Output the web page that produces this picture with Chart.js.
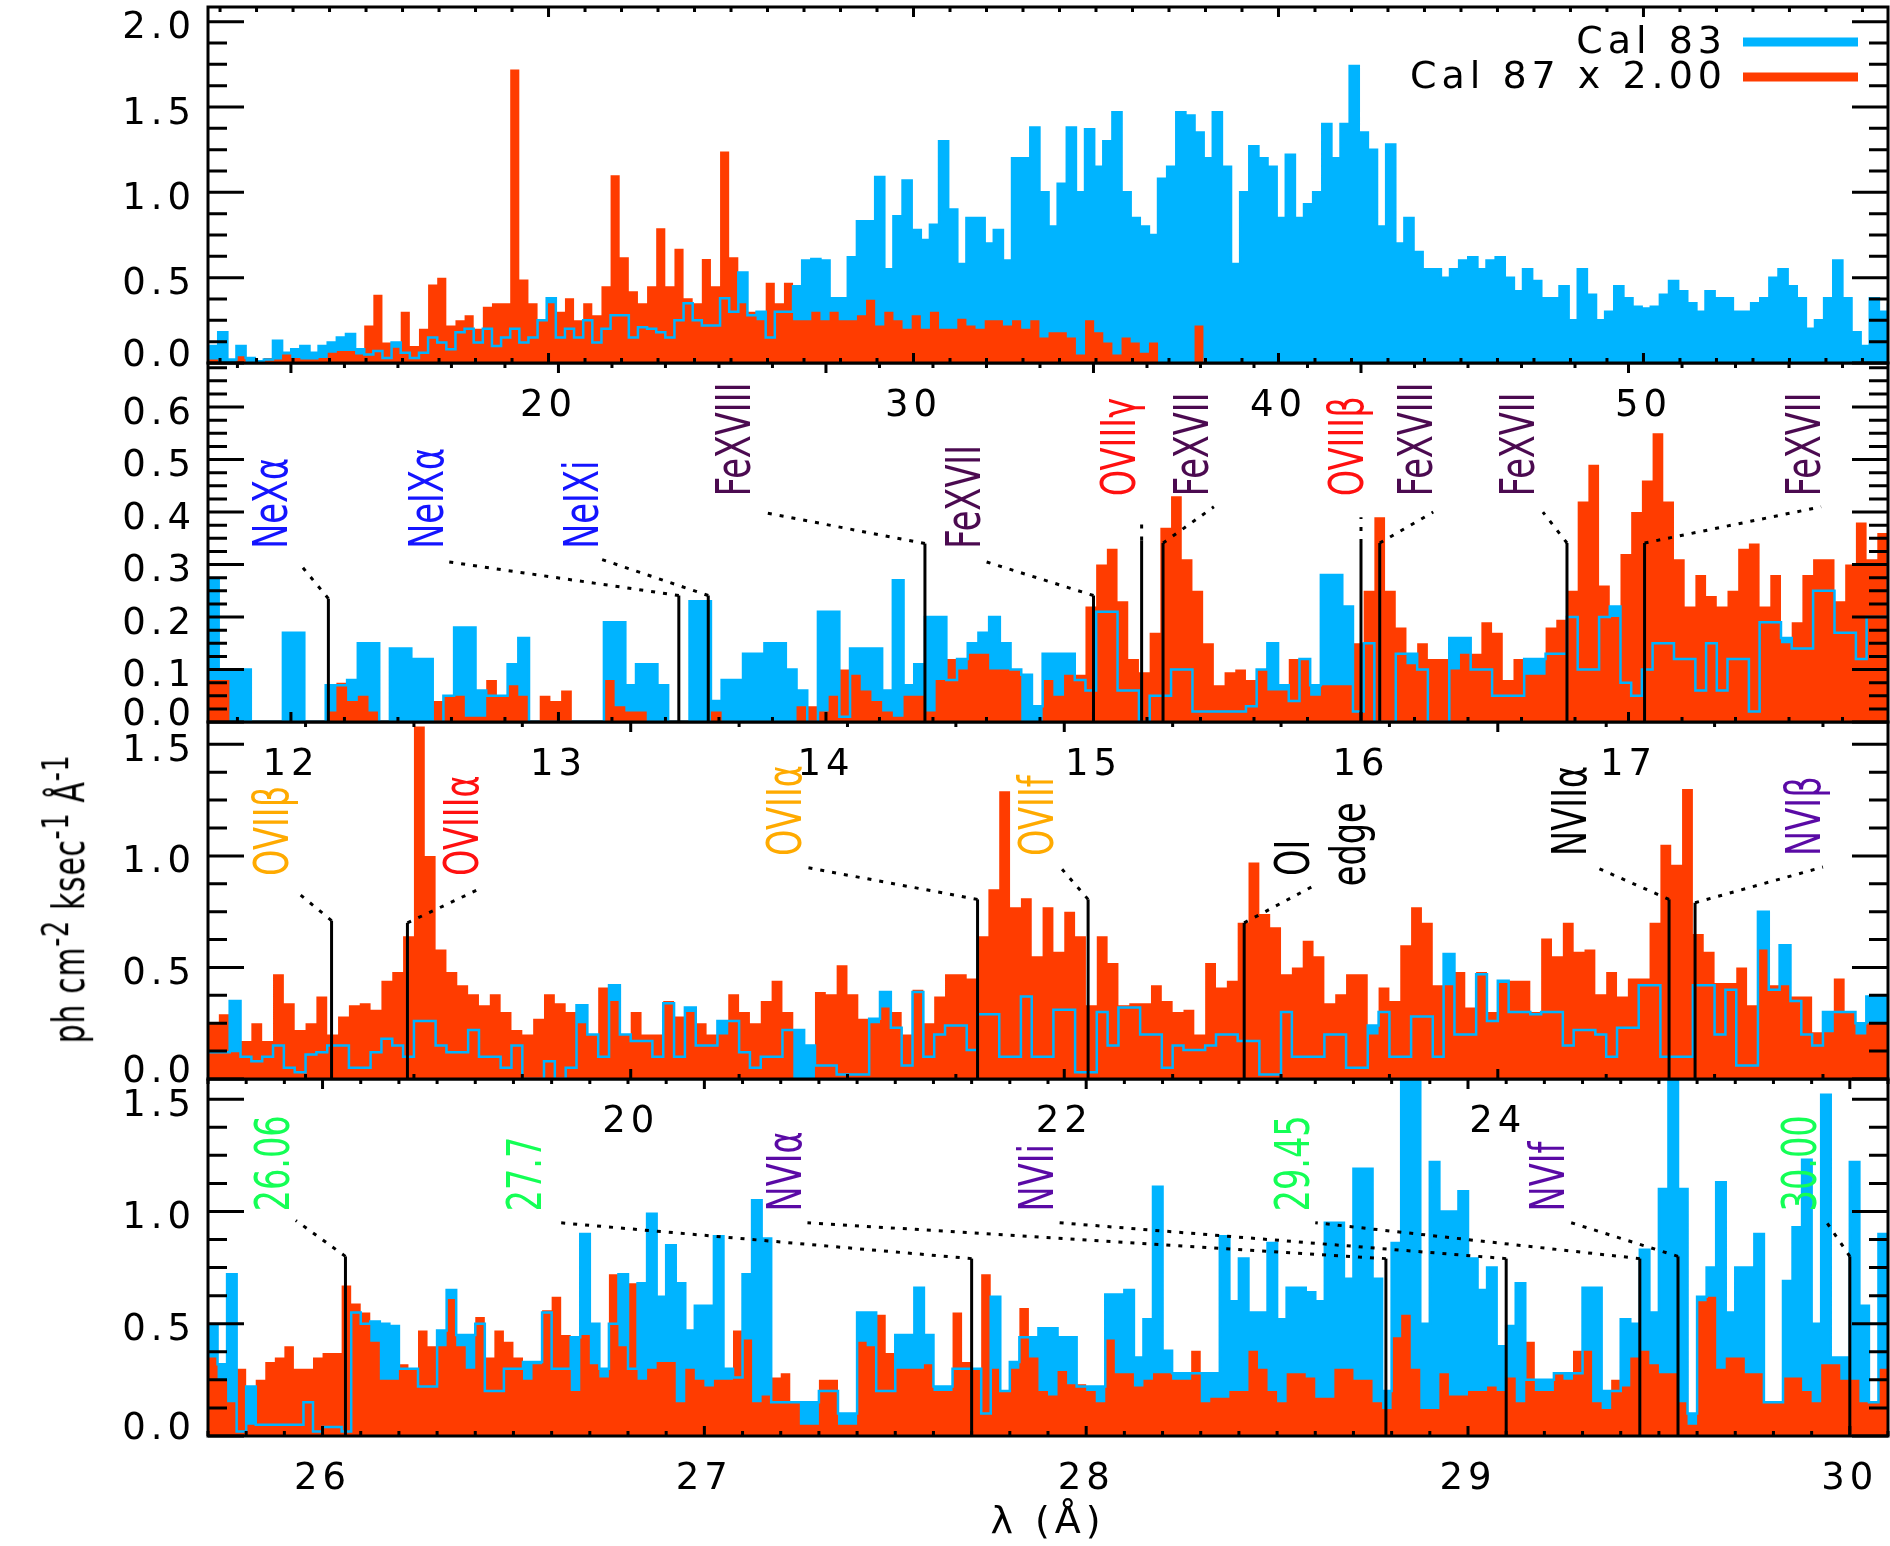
<!DOCTYPE html>
<html>
<head>
<meta charset="utf-8">
<script src="https://cdn.jsdelivr.net/npm/chart.js@4.4.1/dist/chart.umd.min.js"></script>
<style>
html, body { margin: 0; padding: 0; background: #fff; }
#wrap { position: relative; width: 1890px; height: 1546px; overflow: hidden; background: #fff; }
#wrap canvas { position: absolute; left: 0; }
#ylab {
  position: absolute; left: 64px; top: 899px;
  transform: translate(-50%, -50%) rotate(-90deg) scaleX(0.68);
  white-space: nowrap; font: 44px 'DejaVu Sans'; letter-spacing: 1px; line-height: 1; color: #000;
}
#ylab sup { font-size: 0.85em; }
</style>
</head>
<body>
<div id="wrap">
  <canvas id="p4"></canvas>
  <canvas id="p3"></canvas>
  <canvas id="p2"></canvas>
  <canvas id="p1"></canvas>
  <div id="ylab">ph cm<sup>-2</sup> ksec<sup>-1</sup> Å<sup>-1</sup></div>
</div>
<script>
// ---- spectra (ph cm^-2 ksec^-1 A^-1), histogram bins start at *Start, width *Bin (A)

// panel 1: whole band
const p1Start = 10.7, p1Bin = 0.25;
const p1Cal83 = [
  0.1, 0.18, 0.02, 0.1, 0.03, 0.01, 0.02, 0.13, 0.06, 0.08,
  0.1, 0.06, 0.1, 0.12, 0.15, 0.17, 0.08, 0.05, 0.07, 0.03,
  0.12, 0.06, 0.03, 0.06, 0.15, 0.12, 0.08, 0.18, 0.2, 0.12,
  0.2, 0.1, 0.15, 0.2, 0.12, 0.15, 0.25, 0.38, 0.15, 0.2,
  0.15, 0.25, 0.12, 0.2, 0.28, 0.28, 0.15, 0.21, 0.2, 0.18,
  0.15, 0.25, 0.35, 0.25, 0.22, 0.22, 0.38, 0.3, 0.53, 0.28,
  0.3, 0.15, 0.3, 0.3, 0.45, 0.6, 0.61, 0.6, 0.38, 0.38,
  0.62, 0.83, 0.83, 1.09, 0.55, 0.86, 1.07, 0.78, 0.72, 0.81,
  1.3, 0.9, 0.58, 0.85, 0.85, 0.7, 0.78, 0.6, 1.2, 1.2,
  1.38, 1.0, 0.8, 1.05, 1.38, 1.0, 1.37, 1.15, 1.3, 1.47,
  1.0, 0.85, 0.8, 0.75, 1.08, 1.15, 1.47, 1.45, 1.35, 1.2,
  1.47, 1.15, 0.58, 1.0, 1.27, 1.2, 1.15, 0.85, 1.22, 0.85,
  0.93, 1.0, 1.4, 1.2, 1.4, 1.74, 1.35, 1.25, 0.8, 1.28,
  0.7, 0.85, 0.65, 0.55, 0.55, 0.5, 0.55, 0.6, 0.62, 0.55,
  0.6, 0.62, 0.5, 0.42, 0.55, 0.48, 0.38, 0.38, 0.45, 0.25,
  0.55, 0.4, 0.25, 0.3, 0.45, 0.38, 0.33, 0.32, 0.33, 0.4,
  0.48, 0.42, 0.35, 0.3, 0.42, 0.38, 0.38, 0.3, 0.3, 0.35,
  0.38, 0.5, 0.55, 0.45, 0.38, 0.2, 0.25, 0.38, 0.6, 0.38,
  0.18, 0.1, 0.38, 0.3, 0.35
];
const p1Cal87 = [
  0.02, 0, 0, 0.04, 0, 0.01, 0.03, 0.02, 0.05, 0.03,
  0.02, 0.02, 0.03, 0.06, 0.07, 0.07, 0.05, 0.22, 0.4, 0.12,
  0.09, 0.3, 0.1, 0.2, 0.46, 0.5, 0.22, 0.25, 0.28, 0.2,
  0.33, 0.35, 0.35, 1.72, 0.49, 0.35, 0.25, 0.35, 0.3, 0.38,
  0.25, 0.35, 0.28, 0.45, 1.1, 0.62, 0.42, 0.35, 0.45, 0.79,
  0.45, 0.67, 0.38, 0.35, 0.61, 0.45, 1.24, 0.62, 0.35, 0.3,
  0.25, 0.47, 0.35, 0.47, 0.25, 0.25, 0.3, 0.25, 0.3, 0.25,
  0.25, 0.28, 0.37, 0.22, 0.3, 0.25, 0.2, 0.28, 0.2, 0.3,
  0.2, 0.2, 0.26, 0.22, 0.2, 0.25, 0.25, 0.22, 0.25, 0.2,
  0.25, 0.15, 0.18, 0.18, 0.15, 0.05, 0.25, 0.18, 0.12, 0.05,
  0.15, 0.12, 0.06, 0.12, 0, 0, 0, 0, 0.22
];
const p1XTicks = [20, 30, 40, 50];
const p1YTicks = [0, 0.5, 1.0, 1.5, 2.0];

// panel 2: 11.7 - 18 A
const p2Start = 11.69, p2Bin = 0.04;
const p2Cal83 = [
  0.27, 0.1, 0.1, 0.1, 0, 0, 0, 0.17, 0.17, 0,
  0, 0.07, 0.07, 0.08, 0.15, 0.15, 0, 0.14, 0.14, 0.12,
  0.12, 0, 0.05, 0.18, 0.18, 0.06, 0.05, 0.05, 0.11, 0.16,
  0, 0, 0, 0, 0, 0, 0, 0.19, 0.19, 0.07,
  0.11, 0.11, 0.07, 0, 0, 0.23, 0.23, 0.04, 0.08, 0.08,
  0.13, 0.13, 0.15, 0.15, 0.1, 0.06, 0, 0.21, 0.21, 0.01,
  0.14, 0.14, 0.14, 0.06, 0.27, 0.07, 0.11, 0.2, 0.2, 0.08,
  0.12, 0.15, 0.17, 0.2, 0.15, 0.1, 0.09, 0.03, 0.13, 0.13,
  0.13, 0.08, 0.06, 0.21, 0.21, 0.06, 0.06, 0, 0.05, 0.05,
  0.1, 0.1, 0.02, 0.02, 0.02, 0.02, 0.02, 0.03, 0.1, 0.15,
  0.07, 0.04, 0.12, 0.07, 0.28, 0.28, 0.22, 0.02, 0.15, 0,
  0, 0.13, 0.13, 0.1, 0, 0, 0.16, 0.16, 0.1, 0.1,
  0.05, 0.05, 0.05, 0.12, 0.12, 0.13, 0.13, 0.2, 0.1, 0.1,
  0.2, 0.22, 0.075, 0.05, 0.1, 0.15, 0.15, 0.12, 0.12, 0.06,
  0.15, 0.06, 0.12, 0.12, 0.02, 0.19, 0.19, 0.16, 0.14, 0.14,
  0.25, 0.25, 0.17, 0.17, 0.12, 0.2, 0.2, 0.33
];
const p2Cal87 = [
  0.08, 0.08, 0, 0, 0, 0, 0, 0, 0, 0,
  0, 0.02, 0.075, 0.04, 0.05, 0.02, 0, 0, 0, 0,
  0, 0.04, 0.05, 0.05, 0.01, 0.01, 0.08, 0.05, 0.07, 0.05,
  0, 0.05, 0.04, 0.06, 0, 0, 0, 0.08, 0.03, 0.02,
  0.02, 0, 0, 0, 0, 0, 0, 0.02, 0, 0,
  0, 0, 0, 0, 0, 0.03, 0.03, 0.02, 0.05, 0.1,
  0.09, 0.06, 0.04, 0.02, 0.01, 0.05, 0.05, 0.02, 0.08, 0.12,
  0.1, 0.13, 0.13, 0.1, 0.1, 0.1, 0, 0, 0.08, 0.05,
  0.09, 0.09, 0.22, 0.3, 0.33, 0.23, 0.12, 0.095, 0.17, 0.37,
  0.43, 0.31, 0.25, 0.15, 0.07, 0.095, 0.1, 0.08, 0.1, 0.06,
  0.06, 0.12, 0.12, 0.05, 0.07, 0.07, 0.07, 0.15, 0.25, 0.39,
  0.25, 0.18, 0.11, 0.15, 0.12, 0.12, 0.1, 0.13, 0.13, 0.19,
  0.17, 0.08, 0.12, 0.09, 0.09, 0.18, 0.195, 0.25, 0.42, 0.49,
  0.26, 0.2, 0.32, 0.4, 0.46, 0.55, 0.42, 0.31, 0.22, 0.28,
  0.24, 0.22, 0.25, 0.33, 0.34, 0.22, 0.28, 0.15, 0.19, 0.28,
  0.31, 0.31, 0.23, 0.3, 0.38, 0.31, 0.36, 0.36
];
const p2XTicks = [12, 13, 14, 15, 16, 17];
const p2YTicks = [0, 0.1, 0.2, 0.3, 0.4, 0.5, 0.6];
const p2LineLam = [12.14, 13.45, 13.56, 14.37, 15.0, 15.18, 15.26, 16.0, 16.07, 16.77, 17.06];
const p2LineName = ['NeXα', 'NeIXα', 'NeIXi', 'FeXVIII', 'FeXVII', 'OVIIIγ', 'FeXVII', 'OVIIIβ', 'FeXVIII', 'FeXVII', 'FeXVII'];

// panel 3: 18 - 25.8 A
const p3Start = 18.05, p3Bin = 0.05;
const p3Cal83 = [
  0.12, 0.12, 0.35, 0.1, 0.08, 0.1, 0.15, 0.05, 0.03, 0.11,
  0.12, 0.15, 0.15, 0.05, 0.05, 0.12, 0.18, 0.15, 0.1, 0.26,
  0.26, 0.15, 0.12, 0.12, 0.22, 0.1, 0.1, 0.05, 0.15, 0,
  0, 0.08, 0, 0.05, 0.33, 0.2, 0.1, 0.42, 0.2, 0.17,
  0.17, 0.1, 0.34, 0.1, 0.32, 0.15, 0.15, 0.26, 0.26, 0.12,
  0.05, 0.1, 0.1, 0.22, 0.22, 0.15, 0.06, 0.06, 0.02, 0.02,
  0.02, 0.27, 0.39, 0.23, 0.06, 0.39, 0.1, 0.2, 0.24, 0.24,
  0.13, 0.29, 0.29, 0.1, 0.1, 0.37, 0.1, 0.1, 0.31, 0.31,
  0.03, 0.03, 0.3, 0.15, 0.32, 0.32, 0.2, 0.2, 0.05, 0.15,
  0.13, 0.13, 0.15, 0.2, 0.2, 0.17, 0.17, 0.02, 0.02, 0.3,
  0.1, 0.1, 0.1, 0.2, 0.2, 0.05, 0.05, 0.24, 0.3, 0.1,
  0.1, 0.28, 0.28, 0.1, 0.56, 0.2, 0.2, 0.47, 0.26, 0.44,
  0.3, 0.3, 0.29, 0.3, 0.3, 0.15, 0.22, 0.22, 0.2, 0.1,
  0.23, 0.23, 0.42, 0.42, 0.1, 0.1, 0.1, 0.42, 0.42, 0.2,
  0.4, 0.06, 0.06, 0.75, 0.4, 0.6, 0.35, 0.2, 0.15, 0.3,
  0.3, 0.3, 0.25, 0.37, 0.37
];
const p3Cal87 = [
  0.25, 0.29, 0.12, 0.17, 0.25, 0.17, 0.47, 0.34, 0.22, 0.25,
  0.37, 0.2, 0.28, 0.33, 0.34, 0.31, 0.44, 0.48, 0.64, 1.58,
  1.0, 0.58, 0.48, 0.42, 0.38, 0.33, 0.38, 0.3, 0.22, 0.2,
  0.27, 0.38, 0.34, 0.3, 0.25, 0.2, 0.41, 0.35, 0.2, 0.3,
  0.2, 0.2, 0.35, 0.28, 0.3, 0.25, 0.2, 0.2, 0.38, 0.3,
  0.25, 0.35, 0.44, 0.3, 0, 0, 0.39, 0.38, 0.51, 0.38,
  0.27, 0.25, 0.32, 0.3, 0.2, 0.4, 0.25, 0.37, 0.47, 0.47,
  0.45, 0.64, 0.85, 1.29, 0.77, 0.81, 0.55, 0.77, 0.57, 0.75,
  0.64, 0.33, 0.64, 0.52, 0.33, 0.34, 0.34, 0.42, 0.35, 0.3,
  0.31, 0.2, 0.52, 0.41, 0.44, 0.7, 0.97, 0.74, 0.68, 0.47,
  0.5, 0.62, 0.55, 0.34, 0.38, 0.47, 0.47, 0.2, 0.41, 0.35,
  0.6, 0.77, 0.7, 0.42, 0.42, 0.48, 0.32, 0.48, 0.3, 0.43,
  0.44, 0.44, 0.3, 0.63, 0.55, 0.7, 0.57, 0.58, 0.38, 0.48,
  0.37, 0.45, 0.45, 0.7, 1.05, 0.96, 1.3, 0.65, 0.57, 0.43,
  0.43, 0.5, 0.33, 0.58, 0.42, 0.42, 0.37, 0.37, 0.21, 0.21,
  0.45, 0.3, 0.2, 0.25, 0.25
];
const p3XTicks = [20, 22, 24];
const p3YTicks = [0, 0.5, 1.0, 1.5];
const p3LineLam = [18.62, 18.97, 21.6, 22.11, 22.83, 24.79, 24.91];
const p3LineName = ['OVIIβ', 'OVIIIα', 'OVIIα', 'OVIIf', 'OI|edge', 'NVIIα', 'NVIβ'];

// panel 4: 25.7 - 30.1 A
const p4Start = 25.7, p4Bin = 0.025;
const p4Cal83 = [
  0.49, 0.32, 0.72, 0.02, 0.22, 0.05, 0.05, 0.05, 0.05, 0.05,
  0.15, 0.02, 0.04, 0.04, 0.02, 0.55, 0.5, 0.51, 0.5, 0.49,
  0.3, 0.3, 0.22, 0.22, 0.47, 0.65, 0.45, 0.45, 0.5, 0.2,
  0.2, 0.3, 0.3, 0.33, 0.33, 0.55, 0.3, 0.3, 0.44, 0.9,
  0.5, 0.3, 0.5, 0.72, 0.3, 0.68, 0.99, 0.62, 0.85, 0.68,
  0.47, 0.58, 0.58, 0.89, 0.3, 0.26, 0.72, 1.05, 0.88, 0.15,
  0.15, 0.15, 0.15, 0.15, 0.2, 0.2, 0.1, 0.1, 0.55, 0.55,
  0.2, 0.2, 0.45, 0.45, 0.66, 0.45, 0.22, 0.22, 0.3, 0.3,
  0.3, 0.1, 0.62, 0.2, 0.33, 0.44, 0.44, 0.48, 0.48, 0.44,
  0.44, 0.22, 0.22, 0.22, 0.63, 0.63, 0.65, 0.35, 0.52, 1.11,
  0.38, 0.28, 0.28, 0.28, 0.28, 0.28, 0.89, 0.6, 0.79, 0.55,
  0.55, 0.86, 0.52, 0.66, 0.66, 0.64, 0.6, 0.95, 0.95, 0.7,
  1.19, 1.19, 0.7, 0.2, 0.86, 1.59, 1.59, 0.5, 1.22, 1.0,
  1.0, 1.09, 0.79, 0.65, 0.75, 0.4, 0.49, 0.68, 0.25, 0.25,
  0.25, 0.28, 0.28, 0.28, 0.66, 0.66, 0.2, 0.2, 0.52, 0.5,
  0.83, 0.55, 1.1, 1.59, 1.1, 0.1, 0.62, 0.75, 1.13, 0.55,
  0.75, 0.75, 0.9, 0.15, 0.15, 0.69, 0.93, 1.23, 0.5, 1.52,
  0.35, 0.35, 1.22, 0.58, 0.15, 0.9, 0.6
];
const p4Cal87 = [
  0.35, 0.25, 0.15, 0.3, 0.05, 0.25, 0.33, 0.35, 0.4, 0.3,
  0.3, 0.35, 0.37, 0.37, 0.67, 0.59, 0.55, 0.42, 0.25, 0.25,
  0.32, 0.3, 0.47, 0.4, 0.4, 0.61, 0.4, 0.3, 0.53, 0.35,
  0.47, 0.42, 0.35, 0.25, 0.32, 0.56, 0.62, 0.45, 0.2, 0.45,
  0.32, 0.26, 0.72, 0.4, 0.68, 0.25, 0.3, 0.33, 0.33, 0.15,
  0.3, 0.25, 0.22, 0.25, 0.25, 0.47, 0.43, 0.15, 0.18, 0.26,
  0.28, 0.15, 0.05, 0.05, 0.25, 0.25, 0.05, 0.05, 0.42, 0.4,
  0.54, 0.37, 0.3, 0.3, 0.3, 0.32, 0.2, 0.2, 0.55, 0.33,
  0.3, 0.72, 0.3, 0.2, 0.3, 0.57, 0.35, 0.2, 0.18, 0.29,
  0.23, 0.23, 0.2, 0.15, 0.43, 0.28, 0.28, 0.22, 0.25, 0.28,
  0.28, 0.25, 0.25, 0.38, 0.15, 0.17, 0.17, 0.2, 0.2, 0.38,
  0.3, 0.2, 0.15, 0.28, 0.28, 0.26, 0.17, 0.17, 0.3, 0.3,
  0.25, 0.25, 0.15, 0.12, 0.44, 0.54, 0.3, 0.12, 0.12, 0.28,
  0.18, 0.18, 0.2, 0.2, 0.22, 0.2, 0.26, 0.15, 0.42, 0.2,
  0.2, 0.28, 0.25, 0.38, 0.38, 0.15, 0.12, 0.25, 0.22, 0.35,
  0.38, 0.32, 0.28, 0.28, 0.15, 0.05, 0.6, 0.62, 0.3, 0.35,
  0.35, 0.28, 0.28, 0.15, 0.15, 0.26, 0.26, 0.2, 0.15, 0.32,
  0.32, 0.25, 0.25, 0.15, 0.15, 0.3, 0.45
];
const p4XTicks = [26, 27, 28, 29, 30];
const p4YTicks = [0, 0.5, 1.0, 1.5];
const p4LineLam = [26.06, 27.7, 28.785, 29.1, 29.45, 29.55, 30.0];
const p4LineName = ['26.06', '27.7', 'NVIα', 'NVIi', '29.45', 'NVIf', '30.00'];

const seriesNames = ['Cal 83', 'Cal 87 x 2.00'];

// ---- styling / layout
const BLUE = '#00b4ff', RED = '#ff3c00';
const TAG_COLOR = { ne: '#1414ff', fe: '#4b0a50', o8: '#ff1010', o7: '#ffaa00', n6: '#5a0aa5', gr: '#14ff55', k: '#000' };
const FONT = 'DejaVu Sans';

// leader geometry: [line top, bend lambda, bend y, colour, [[text lambda, text start y], ...]]
const p2Leader = [
  [0.235, 12.035, 0.30, 'ne', [[11.94, 0.33]]],
  [0.241, 12.59, 0.305, 'ne', [[12.52, 0.33]]],
  [0.241, 13.16, 0.31, 'ne', [[13.10, 0.33]]],
  [0.34, 13.76, 0.40, 'fe', [[13.67, 0.43]]],
  [0.241, 14.60, 0.305, 'fe', [[14.53, 0.33]]],
  [0.346, 15.18, 0.39, 'o8', [[15.11, 0.43]]],
  [0.341, 15.45, 0.41, 'fe', [[15.38, 0.43]]],
  [0.341, 16.0, 0.39, 'o8', [[15.96, 0.43]]],
  [0.341, 16.27, 0.40, 'fe', [[16.22, 0.43]]],
  [0.341, 16.68, 0.40, 'fe', [[16.60, 0.43]]],
  [0.341, 17.72, 0.41, 'fe', [[17.67, 0.43]]]
];
const p3Leader = [
  [0.71, 18.47, 0.83, 'o7', [[18.36, 0.91]]],
  [0.70, 19.32, 0.86, 'o8', [[19.24, 0.91]]],
  [0.805, 20.80, 0.95, 'o7', [[20.73, 1.0]]],
  [0.805, 21.99, 0.94, 'o7', [[21.89, 1.0]]],
  [0.70, 23.14, 0.86, 'k', [[23.07, 0.91], [23.33, 0.864]]],
  [0.805, 24.45, 0.95, 'k', [[24.35, 1.0]]],
  [0.79, 25.50, 0.95, 'n6', [[25.43, 1.0]]]
];
const p4Leader = [
  [0.80, 25.93, 0.96, 'gr', [[25.88, 1.0]]],
  [0.79, 26.62, 0.95, 'gr', [[26.54, 1.0]]],
  [0.79, 27.27, 0.95, 'n6', [[27.22, 1.0]]],
  [0.79, 27.93, 0.95, 'n6', [[27.88, 1.0]]],
  [0.79, 28.60, 0.95, 'gr', [[28.55, 1.0]]],
  [0.80, 29.27, 0.95, 'n6', [[29.22, 1.0]]],
  [0.80, 29.94, 0.95, 'gr', [[29.88, 1.0]]]
];

function steps(start, bin, vals) {
  const pts = vals.map((v, i) => ({ x: start + i * bin, y: v }));
  pts.push({ x: start + vals.length * bin, y: vals[vals.length - 1] });
  return pts;
}

function tagsFrom(lams, names, leader) {
  return lams.map((l, i) => ({ line: l, name: names[i], top: leader[i][0], bend: [leader[i][1], leader[i][2]], color: TAG_COLOR[leader[i][3]], texts: leader[i][4] }));
}

function near(list, v) { return list.some(m => Math.abs(m - v) < 1e-6); }

// IDL-style frame: inward ticks on all four sides, y labels, line identifications, legend
const decor = {
  id: 'decor',
  beforeDraw(chart) { chart.ctx.letterSpacing = '5px'; },
  afterDatasetsDraw(chart, args, o) {
    const { ctx, chartArea: a } = chart;
    const xs = chart.scales.x, ys = chart.scales.y;
    ctx.save();
    ctx.letterSpacing = '0px';
    const y0 = ys.getPixelForValue(0);

    for (const t of o.tags) {
      const lx = xs.getPixelForValue(t.line), ly = ys.getPixelForValue(t.top);
      ctx.strokeStyle = '#000';
      ctx.lineWidth = 3;
      ctx.setLineDash([]);
      ctx.beginPath(); ctx.moveTo(lx, y0); ctx.lineTo(lx, ly); ctx.stroke();
      ctx.setLineDash([4, 8]);
      ctx.beginPath(); ctx.moveTo(lx, ly); ctx.lineTo(xs.getPixelForValue(t.bend[0]), ys.getPixelForValue(t.bend[1])); ctx.stroke();
      ctx.setLineDash([]);
      const parts = t.name.split('|');
      parts.forEach((s, k) => {
        const p = t.texts[k];
        ctx.save();
        ctx.translate(xs.getPixelForValue(p[0]), ys.getPixelForValue(p[1]));
        ctx.rotate(-Math.PI / 2);
        ctx.scale(0.7, 1);
        ctx.font = '48px ' + FONT;
        ctx.fillStyle = t.color;
        ctx.textAlign = 'left';
        ctx.textBaseline = 'middle';
        ctx.fillText(s, 0, 0);
        ctx.restore();
      });
    }

    ctx.strokeStyle = '#000';
    ctx.lineWidth = 3;
    ctx.beginPath();
    for (let k = Math.ceil(ys.min / o.yMinor - 1e-6); k * o.yMinor <= ys.max + 1e-6; k++) {
      const v = k * o.yMinor, py = ys.getPixelForValue(v);
      const len = near(o.yMajor, v) ? 36 : 19;
      ctx.moveTo(a.left, py); ctx.lineTo(a.left + len, py);
      ctx.moveTo(a.right, py); ctx.lineTo(a.right - len, py);
    }
    for (let k = Math.ceil(xs.min / o.xMinor - 1e-6); k * o.xMinor <= xs.max + 1e-6; k++) {
      const v = k * o.xMinor, px = xs.getPixelForValue(v);
      const len = near(o.xMajor, v) ? 10 : 5;
      ctx.moveTo(px, a.bottom); ctx.lineTo(px, a.bottom - len);
      ctx.moveTo(px, a.top); ctx.lineTo(px, a.top + len);
    }
    ctx.stroke();
    ctx.strokeRect(a.left, a.top, a.right - a.left, a.bottom - a.top);

    // y tick labels; the lowest one is lifted clear of the panel below
    ctx.font = '37px ' + FONT;
    ctx.letterSpacing = '5px';
    ctx.fillStyle = '#000';
    ctx.textAlign = 'right';
    ctx.textBaseline = 'alphabetic';
    for (const t of ys.ticks) {
      const py = ys.getPixelForValue(t.value);
      const c = Math.abs(t.value - ys.min) < 1e-6 ? py - 11 : py + 3;
      ctx.fillText(t.value.toFixed(1), a.left - 12, c + 13.5);
    }

    if (o.legend) {
      ctx.font = '38px ' + FONT;
      ctx.textBaseline = 'middle';
      o.legend.forEach((it, i) => {
        const ry = a.top + 35 + i * 35;
        ctx.fillStyle = '#000';
        ctx.fillText(it.text, 1727, ry + 1);
        ctx.strokeStyle = it.color;
        ctx.lineWidth = 9;
        ctx.beginPath(); ctx.moveTo(1743, ry); ctx.lineTo(1858, ry); ctx.stroke();
      });
    }
    ctx.restore();
  },
  afterDraw(chart) { chart.ctx.letterSpacing = '0px'; }
};

const PAD_TOP = 30;

function panel(id, g) {
  const cv = document.getElementById(id);
  cv.width = 1890;
  cv.height = g.bottom - g.top + PAD_TOP + g.padBot;
  cv.style.top = (g.top - PAD_TOP) + 'px';
  const tickFont = { family: FONT, size: 37 };
  const xScale = {
    type: 'linear', min: g.xmin, max: g.xmax,
    grid: { display: false, drawTicks: false }, border: { display: false },
    afterBuildTicks: s => { s.ticks = g.xTicks.map(v => ({ value: v })); },
    afterFit: s => { s.height = g.padBot; s.paddingLeft = 0; s.paddingRight = 0; },
    ticks: { color: '#000', font: tickFont, padding: 21, maxRotation: 0, autoSkip: false, callback: v => String(v) }
  };
  if (g.xTitle) {
    xScale.title = { display: true, text: g.xTitle, color: '#000', font: { family: FONT, size: 38 }, padding: { top: 0, bottom: 0 } };
  }
  return new Chart(cv, {
    type: 'line',
    data: {
      datasets: [
        { data: steps(g.start, g.bin, g.blue), backgroundColor: BLUE, borderWidth: 0, fill: 'origin', stepped: 'before', pointRadius: 0, order: 3 },
        { data: steps(g.start, g.bin, g.red), backgroundColor: RED, borderWidth: 0, fill: 'origin', stepped: 'before', pointRadius: 0, order: 2 },
        { data: steps(g.start, g.bin, g.blue), borderColor: BLUE, borderWidth: 2.5, fill: false, stepped: 'before', pointRadius: 0, order: 1 }
      ]
    },
    options: {
      responsive: false,
      animation: false,
      parsing: false,
      layout: { padding: { top: PAD_TOP, right: 2, left: 0, bottom: 0 } },
      plugins: {
        legend: { display: false },
        tooltip: { enabled: false },
        decor: { tags: g.tags, xMajor: g.xTicks, yMajor: g.yTicks, xMinor: g.xMinor, yMinor: g.yMinor, legend: g.legend }
      },
      scales: {
        x: xScale,
        y: {
          type: 'linear', min: 0, max: g.ymax,
          grid: { display: false, drawTicks: false }, border: { display: false },
          afterBuildTicks: s => { s.ticks = g.yTicks.map(v => ({ value: v })); },
          afterFit: s => { s.width = 208; s.paddingTop = 0; s.paddingBottom = 0; },
          ticks: { display: false }
        }
      }
    },
    plugins: [decor]
  });
}

panel('p1', {
  top: 7, bottom: 363, padBot: 70, xmin: 10.67, xmax: 56.7, ymax: 2.086,
  start: p1Start, bin: p1Bin, blue: p1Cal83, red: p1Cal87,
  xTicks: p1XTicks, yTicks: p1YTicks, xMinor: 1, yMinor: 0.125, tags: [],
  legend: [{ text: seriesNames[0], color: BLUE }, { text: seriesNames[1], color: RED }]
});
panel('p2', {
  top: 363, bottom: 722, padBot: 70, xmin: 11.69, xmax: 17.97, ymax: 0.684,
  start: p2Start, bin: p2Bin, blue: p2Cal83, red: p2Cal87,
  xTicks: p2XTicks, yTicks: p2YTicks, xMinor: 0.2, yMinor: 0.025,
  tags: tagsFrom(p2LineLam, p2LineName, p2Leader)
});
panel('p3', {
  top: 722, bottom: 1079, padBot: 70, xmin: 18.05, xmax: 25.8, ymax: 1.6,
  start: p3Start, bin: p3Bin, blue: p3Cal83, red: p3Cal87,
  xTicks: p3XTicks, yTicks: p3YTicks, xMinor: 0.5, yMinor: 0.125,
  tags: tagsFrom(p3LineLam, p3LineName, p3Leader)
});
panel('p4', {
  top: 1079, bottom: 1436, padBot: 110, xmin: 25.7, xmax: 30.1, ymax: 1.59,
  start: p4Start, bin: p4Bin, blue: p4Cal83, red: p4Cal87,
  xTicks: p4XTicks, yTicks: p4YTicks, xMinor: 0.1, yMinor: 0.125,
  tags: tagsFrom(p4LineLam, p4LineName, p4Leader), xTitle: 'λ (Å)'
});
</script>
</body>
</html>
